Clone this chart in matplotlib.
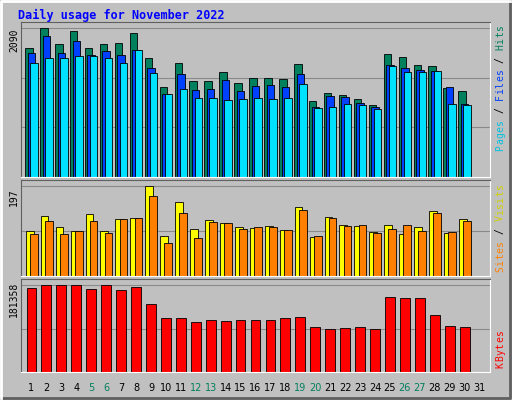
import matplotlib
matplotlib.use("Agg")
import matplotlib.pyplot as plt

days = list(range(1, 32))
hits = [1806,2090,1863,2048,1806,1863,1877,2019,1664,1266,1607,1351,1351,1479,1322,1394,1394,1379,1593,1066,1180,1152,1095,1010,1721,1678,1578,1564,1251,1209]
files = [1735,1977,1735,1905,1706,1763,1706,1777,1536,1166,1450,1223,1237,1365,1209,1280,1294,1266,1450,981,1138,1123,1038,981,1578,1536,1507,1493,1266,1024]
pages = [1607,1664,1664,1692,1692,1664,1607,1777,1465,1166,1237,1109,1109,1081,1095,1109,1095,1109,1308,967,981,1024,1010,953,1564,1479,1479,1493,1024,1010]
visits = [99,131,107,99,136,99,125,127,197,88,162,103,123,116,107,105,110,101,151,85,129,112,110,96,112,92,107,142,94,125]
sites = [92,120,92,99,120,94,125,127,175,72,138,83,118,116,103,107,107,101,145,88,127,110,112,94,103,112,99,138,96,120]
kbytes = [175000,181358,181358,181358,172900,181358,170700,177100,140800,113100,113100,104600,108800,106700,108800,108800,108800,113100,115200,93900,89600,91800,93900,89600,155800,153600,153600,119500,96000,93900]
weekend = [5,6,12,13,19,20,26,27]

W, H = 512, 400
fig = plt.figure(figsize=(W/100, H/100), dpi=100)
fig.patch.set_facecolor('#C0C0C0')
bg = fig.add_axes([0,0,1,1]); bg.set_xlim(0,W); bg.set_ylim(H,0); bg.axis('off')
bg.plot([1,W-2,W-2],[H-2,H-2,1],color='#606060',lw=2)
bg.plot([1,1,W-2],[H-2,1,1],color='white',lw=2)
bg.text(18,15,'Daily usage for November 2022',color='#0000FF',fontsize=8.5,
        fontweight='bold',family='DejaVu Sans Mono',va='center')

x0, x1 = 21, 490
def mkax(top, bot):
    ax = fig.add_axes([x0/W, 1-bot/H, (x1-x0)/W, (bot-top)/H])
    ax.set_facecolor('#C0C0C0')
    ax.set_xlim(0.3, 31.7)
    ax.set_xticks([]); ax.set_yticks([])
    for s in ['top','left']: ax.spines[s].set_color('#606060')
    for s in ['bottom','right']: ax.spines[s].set_color('white')
    return ax

d = days[:30]
ax1 = mkax(22, 177)
m1 = max(hits)
ax1.set_ylim(0, m1*152/146)
for f in (1/3, 2/3, 1.0):
    ax1.axhline(m1*f, color='#8a8a8a', lw=0.8, zorder=0)
ax1.bar([x-0.42 for x in d], hits, width=0.5, align='edge', color='#00805C', ec='black', lw=0.6)
ax1.bar([x-0.25 for x in d], files, width=0.5, align='edge', color='#0040FF', ec='black', lw=0.6)
ax1.bar([x-0.08 for x in d], pages, width=0.5, align='edge', color='#00E0FF', ec='black', lw=0.6)

ax2 = mkax(180, 276)
m2 = max(visits)
ax2.set_ylim(0, m2*96/90)
for f in (0.5, 1.0):
    ax2.axhline(m2*f, color='#8a8a8a', lw=0.8, zorder=0)
ax2.bar([x-0.38 for x in d], visits, width=0.52, align='edge', color='#FFFF00', ec='black', lw=0.6)
ax2.bar([x-0.1 for x in d], sites, width=0.52, align='edge', color='#FF8000', ec='black', lw=0.6)

ax3 = mkax(279, 372)
m3 = max(kbytes)
ax3.set_ylim(0, m3*93/87)
for f in (0.5, 1.0):
    ax3.axhline(m3*f, color='#8a8a8a', lw=0.8, zorder=0)
ax3.bar([x-0.33 for x in d], kbytes, width=0.66, align='edge', color='#FF0000', ec='black', lw=0.6)

for i in days:
    xp = x0 + (i-0.3)/(31.4)*(x1-x0)
    bg.text(xp, 388, str(i), ha='center', va='center', fontsize=7,
            color='#00805C' if i in weekend else 'black')

for y, t in [(40,'2090'),(197,'197'),(299,'181358')]:
    bg.text(14, y, t, rotation=90, ha='center', va='center', fontsize=7, family='DejaVu Sans Mono')

def rlabel(yc, parts):
    total = sum(len(p[0]) for p in parts)
    ch = 6.3
    y = yc + total*ch/2
    for s, c in parts:
        for chr_ in s:
            bg.text(500, y - ch/2, chr_, rotation=90, ha='center', va='center', fontsize=7,
                    family='DejaVu Sans Mono', color=c)
            y -= ch
rlabel(88, [('Pages',"#00C0E0"),(' / ','black'),('Files','#0040FF'),(' / ','black'),('Hits','#00805C')])
rlabel(228, [('Sites','#FF8000'),(' / ','black'),('Visits','#D0D000')])
rlabel(349, [('KBytes','#FF0000')])

fig.savefig('out.png', dpi=100, facecolor=fig.get_facecolor())
